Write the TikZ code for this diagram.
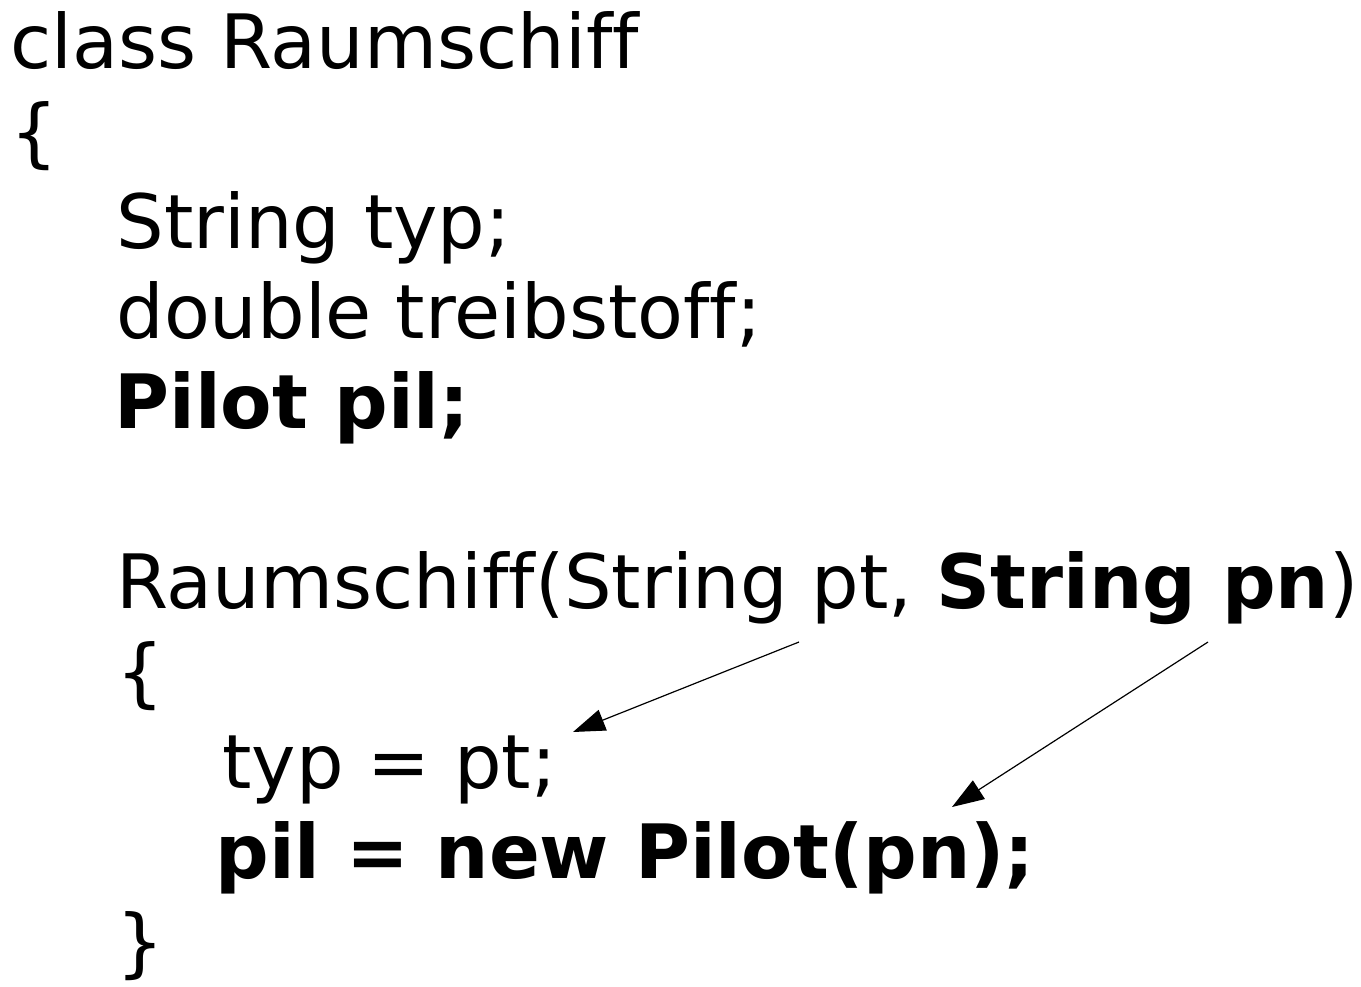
\documentclass[tikz,border=0pt]{standalone}
\usepackage{fontspec}
\setmainfont[Ligatures=NoCommon]{DejaVu Sans}
\usepackage{tikz}
\usetikzlibrary{arrows,arrows.meta}
\tikzstyle{code} = [anchor=base west, inner sep=0pt, font=\fontsize{37.5}{45}\selectfont]
\tikzstyle{line} = [draw, line width=0.6pt, -{Triangle[length=16pt,width=11pt]}]

\begin{document}
\begin{tikzpicture}[x=0.5pt, y=-0.5pt]
    \useasboundingbox (0,0) rectangle (1361,986);
    % Place nodes
    \node [code] (cls) at (10,68) {class Raumschiff};
    \node [code] (open1) at (10,158) {\{};
    \node [code] (typdecl) at (116,248) {String typ;};
    \node [code] (fueldecl) at (116,338) {double treibstoff;};
    \node [code] (pildecl) at (114,428) {\textbf{Pilot pil;}};
    \node [code] (ctor) at (116,608) {Raumschiff(String pt, \textbf{String pn})};
    \node [code] (open2) at (116,698) {\{};
    \node [code] (typassign) at (222,788) {typ = pt;};
    \node [code] (pilassign) at (215,878) {\textbf{pil = new Pilot(pn);}};
    \node [code] (close2) at (116,968) {\}};
    \coordinate (ptsrc) at (799,642);
    \coordinate (pttip) at (573,732);
    \coordinate (pnsrc) at (1208,642);
    \coordinate (pntip) at (952,807);

    % Draw edges
    \path [line] (ptsrc) -- (pttip);
    \path [line] (pnsrc) -- (pntip);
\end{tikzpicture}
\end{document}
